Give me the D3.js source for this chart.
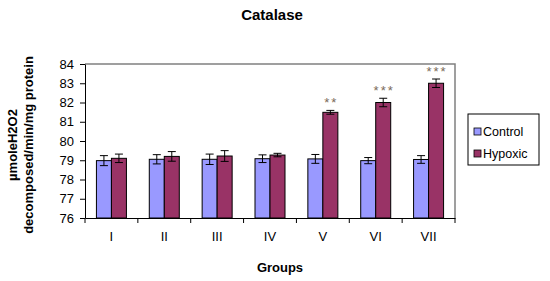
<!DOCTYPE html>
<html>
<head>
<meta charset="utf-8">
<script src="https://cdn.jsdelivr.net/npm/d3@7"></script>
<style>
  body { margin: 0; background: #fff; }
  text { font-family: "Liberation Sans", Arial, sans-serif; }
</style>
</head>
<body>
<div id="canvas"></div>
<script>
// Canvas size and plot area.
const WIDTH = 550;
const HEIGHT = 281;
const LEFT = 85, RIGHT = 455, TOP = 64, BOTTOM = 218;

// The data.
const groups = ["I", "II", "III", "IV", "V", "VI", "VII"];
const control = [78.98, 79.05, 79.05, 79.08, 79.07, 78.98, 79.04];
const controlErr = [0.26, 0.24, 0.27, 0.20, 0.23, 0.16, 0.20];
const hypoxic = [79.1, 79.2, 79.22, 79.27, 81.49, 82.0, 83.0];
const hypoxicErr = [0.22, 0.25, 0.28, 0.09, 0.10, 0.22, 0.22];
const stars = ["", "", "", "", "**", "***", "***"];
const yTicks = [76, 77, 78, 79, 80, 81, 82, 83, 84];

const series = [
    { name: "Control", values: control, errors: controlErr, color: "#9999ff" },
    { name: "Hypoxic", values: hypoxic, errors: hypoxicErr, color: "#993366" }
];

const svg = d3.select("#canvas")
    .append("svg")
    .attr("width", WIDTH)
    .attr("height", HEIGHT);

// Scales.
const xScale = d3.scaleBand()
    .domain(groups)
    .range([LEFT, RIGHT]);

const innerScale = d3.scaleBand()
    .domain(series.map(s => s.name))
    .range([0, 30]);

const yScale = d3.scaleLinear()
    .domain([76, 84])
    .range([BOTTOM, TOP]);

// Plot frame (top and right gray lines).
svg.append("path")
    .attr("d", `M${LEFT},${TOP}H${RIGHT}V${BOTTOM}`)
    .attr("fill", "none")
    .attr("stroke", "#808080")
    .attr("stroke-width", 1.5);

// Bars.
const barOffset = (xScale.bandwidth() - 30) / 2;
series.forEach(s => {
    const g = svg.append("g");
    g.selectAll("rect")
        .data(s.values)
        .enter()
        .append("rect")
        .attr("x", (d, i) => xScale(groups[i]) + barOffset + innerScale(s.name))
        .attr("y", d => yScale(d))
        .attr("width", innerScale.bandwidth())
        .attr("height", d => yScale(76) - yScale(d))
        .attr("fill", s.color)
        .attr("stroke", "#000")
        .attr("stroke-width", 1);

    // Error bars.
    s.values.forEach((v, i) => {
        const cx = xScale(groups[i]) + barOffset + innerScale(s.name) + innerScale.bandwidth() / 2;
        const y1 = yScale(v + s.errors[i]);
        const y2 = yScale(v - s.errors[i]);
        g.append("path")
            .attr("d", `M${cx},${y1}V${y2}M${cx - 4},${y1}H${cx + 4}M${cx - 4},${y2}H${cx + 4}`)
            .attr("stroke", "#000")
            .attr("stroke-width", 1)
            .attr("fill", "none");
    });
});

// Significance stars.
svg.selectAll(".star")
    .data(stars)
    .enter()
    .append("text")
    .attr("x", (d, i) => xScale(groups[i]) + barOffset + innerScale("Hypoxic") + innerScale.bandwidth() / 2 + 1)
    .attr("y", (d, i) => yScale(hypoxic[i] + hypoxicErr[i]) - 3)
    .attr("text-anchor", "middle")
    .attr("font-size", 13)
    .attr("letter-spacing", 2)
    .attr("fill", "#7a6a58")
    .text(d => d);

// Axes.
const yAxis = d3.axisLeft(yScale)
    .tickValues(yTicks)
    .tickSize(5)
    .tickSizeOuter(0)
    .tickPadding(6);

const gy = svg.append("g")
    .attr("transform", `translate(${LEFT},0)`)
    .call(yAxis);
gy.selectAll("text").attr("font-size", 13).attr("fill", "#000")
    .style("font-family", "'Liberation Sans', Arial, sans-serif");
gy.selectAll("line, path").attr("stroke", "#000");

const xAxis = d3.axisBottom(xScale)
    .tickSize(0)
    .tickPadding(14);

const gx = svg.append("g")
    .attr("transform", `translate(0,${BOTTOM})`)
    .call(xAxis);
gx.select(".domain").attr("stroke", "#000");
gx.selectAll("text").attr("font-size", 13).attr("fill", "#000")
    .style("font-family", "'Liberation Sans', Arial, sans-serif");

// Tick marks between the groups.
gx.selectAll(".sep")
    .data(groups.concat(["end"]))
    .enter()
    .append("line")
    .attr("x1", (d, i) => LEFT + i * xScale.step())
    .attr("x2", (d, i) => LEFT + i * xScale.step())
    .attr("y1", 0)
    .attr("y2", 5)
    .attr("stroke", "#000");

// Titles.
svg.append("text")
    .attr("x", 272)
    .attr("y", 20)
    .attr("text-anchor", "middle")
    .attr("font-size", 15)
    .attr("font-weight", "bold")
    .text("Catalase");

svg.append("text")
    .attr("x", 280)
    .attr("y", 272)
    .attr("text-anchor", "middle")
    .attr("font-size", 13)
    .attr("font-weight", "bold")
    .text("Groups");

const yTitle = svg.append("text")
    .attr("transform", "translate(17,145) rotate(-90)")
    .attr("text-anchor", "middle")
    .attr("font-size", 13)
    .attr("font-weight", "bold");
yTitle.append("tspan").attr("x", 0).attr("dy", 0).text("µmoleH2O2");
yTitle.append("tspan").attr("x", 0).attr("dy", 16).text("decomposed/min/mg protein");

// Legend.
const legend = svg.append("g").attr("transform", "translate(468,114)");
legend.append("rect")
    .attr("width", 71)
    .attr("height", 51)
    .attr("fill", "#fff")
    .attr("stroke", "#000");
series.forEach((s, i) => {
    legend.append("rect")
        .attr("x", 6)
        .attr("y", 14 + i * 22)
        .attr("width", 7)
        .attr("height", 7)
        .attr("fill", s.color)
        .attr("stroke", "#000")
        .attr("stroke-width", 0.8);
    legend.append("text")
        .attr("x", 15)
        .attr("y", 22 + i * 22)
        .attr("font-size", 12.5)
        .text(s.name);
});
</script>
</body>
</html>
